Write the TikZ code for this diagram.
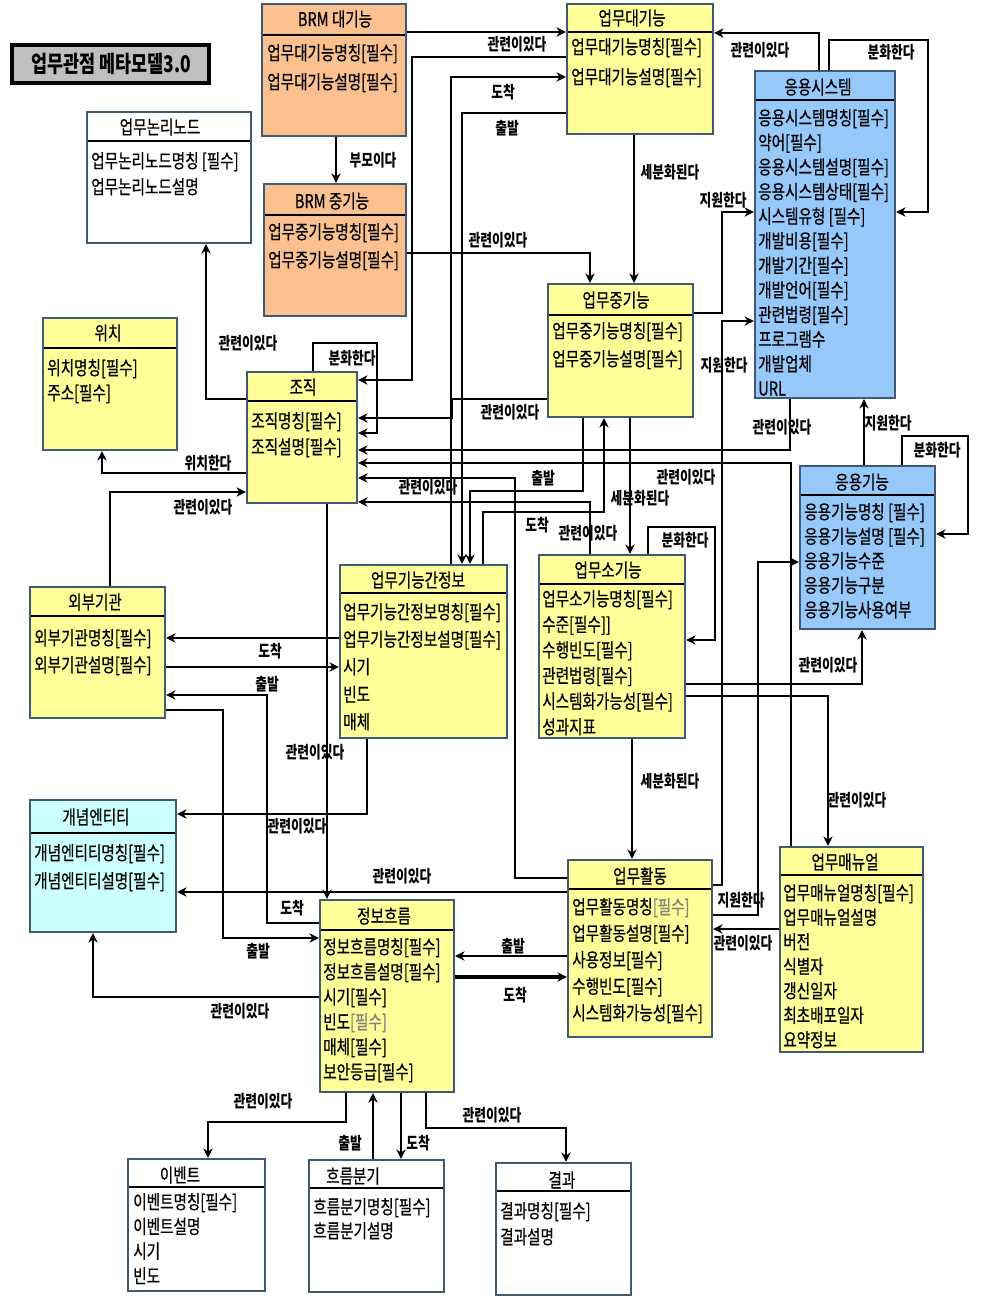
\documentclass[tikz,border=0pt]{standalone}
\usepackage{fontspec}
\setmainfont{Noto Sans CJK KR}[FakeStretch=0.76,UprightFeatures={FakeBold=0.5}]
\usetikzlibrary{arrows.meta,fit}
\definecolor{peach}{RGB}{250,192,144}
\definecolor{pale}{RGB}{255,255,153}
\definecolor{sky}{RGB}{150,200,250}
\definecolor{aqua}{RGB}{204,255,255}
\definecolor{edge}{RGB}{65,90,115}
\begin{document}
\begin{tikzpicture}[x=0.75pt,y=-0.75pt,
  ebox/.style={draw=edge,line width=1.8pt,inner sep=0pt},
  sep/.style={line width=1.6pt,shorten <=2pt,shorten >=2pt},
  hd/.style={font=\fontsize{14.4}{16}\selectfont,inner sep=0pt},
  attr/.style={anchor=west,font=\fontsize{14.4}{16}\selectfont,inner sep=0pt,text height=14pt,text depth=2.1pt},
  lbl/.style={font=\bfseries\fontsize{12.6}{14}\selectfont,inner sep=0pt},
  rel/.style={line width=1.9pt,-{Stealth[length=7pt,width=7pt]}},
  thinrel/.style={rel,line width=1.4pt}]
\fill[white] (0,0) rectangle (994,1303);
\useasboundingbox (0,0) rectangle (994,1303);

\node[fit={(12,45) (209,83)},fill=black!25,draw,line width=2.4pt,inner sep=0pt] (ttl) {};
\node[font=\bfseries\fontsize{17.2}{19}\selectfont] (ttl-t) at (111,64) {업무관점 메타모델3.0};

\node[ebox,fill=peach,fit={(262,4) (406,136)}] (brmL) {};
\node[ebox,fill=white,fit={(87,112) (251,243)}] (lnode) {};
\node[ebox,fill=peach,fit={(264,184) (406,316)}] (brmM) {};
\node[ebox,fill=pale,fit={(567,4) (713,134)}] (bfL) {};
\node[ebox,fill=sky,fit={(755,71) (895,398)}] (appsys) {};
\node[ebox,fill=pale,fit={(43,318) (177,450)}] (loc) {};
\node[ebox,fill=pale,fit={(247,372) (357,503)}] (org) {};
\node[ebox,fill=pale,fit={(548,284) (693,417)}] (bfM) {};
\node[ebox,fill=sky,fit={(800,466) (935,629)}] (appfn) {};
\node[ebox,fill=pale,fit={(30,587) (165,718)}] (ext) {};
\node[ebox,fill=pale,fit={(340,565) (507,738)}] (bfinfo) {};
\node[ebox,fill=pale,fit={(539,555) (685,738)}] (bfS) {};
\node[ebox,fill=aqua,fit={(30,800) (176,932)}] (cent) {};
\node[ebox,fill=pale,fit={(320,900) (454,1092)}] (iflow) {};
\node[ebox,fill=pale,fit={(568,860) (712,1037)}] (act) {};
\node[ebox,fill=pale,fit={(780,847) (923,1052)}] (man) {};
\node[ebox,fill=white,fit={(128,1159) (265,1291)}] (evt) {};
\node[ebox,fill=white,fit={(309,1160) (444,1292)}] (fork) {};
\node[ebox,fill=white,fit={(496,1163) (631,1295)}] (res) {};

\foreach \b/\y in {brmL/35,lnode/141,brmM/215,bfL/32,appsys/100,loc/348,org/401,bfM/315,appfn/495,
  ext/616,bfinfo/593,bfS/584,cent/833,iflow/930,act/889,man/875,evt/1187,fork/1188,res/1191}
  \draw[sep] (\b.west |- 0,\y) -- (\b.east |- 0,\y);

\foreach \b/\x/\y/\t in {brmL/335/19/BRM 대기능,lnode/160/127/업무논리노드,brmM/332/201/BRM 중기능,
  bfL/632/18/업무대기능,appsys/818/87/응용시스템,loc/108/333/위치,org/303/387/조직,bfM/616/300/업무중기능,
  appfn/862/482/응용기능,ext/95/602/외부기관,bfinfo/418/580/업무기능간정보,bfS/608/570/업무소기능,
  cent/96/817/개념엔티티,iflow/384/916/정보흐름,act/640/876/업무활동,man/845/862/업무매뉴얼,
  evt/180/1175/이벤트,fork/353/1176/흐름분기,res/562/1180/결과}
  \node[hd] (\b-t) at (\x,\y) {\t};

\foreach \t [count=\i] in {업무대기능명칭[필수],업무대기능설명[필수]}
  \node[attr] (brmL-\i) at (267,{52+(\i-1)*29}) {\t};
\foreach \t [count=\i] in {업무논리노드명칭 [필수],업무논리노드설명}
  \node[attr] (lnode-\i) at (91,{160+(\i-1)*26}) {\t};
\foreach \t [count=\i] in {업무중기능명칭[필수],업무중기능설명[필수]}
  \node[attr] (brmM-\i) at (268,{231+(\i-1)*28}) {\t};
\foreach \t [count=\i] in {업무대기능명칭[필수],업무대기능설명[필수]}
  \node[attr] (bfL-\i) at (571,{46+(\i-1)*30}) {\t};
\foreach \t [count=\i] in {응용시스템명칭[필수],약어[필수],응용시스템설명[필수],응용시스템상태[필수],
  시스템유형 [필수],개발비용[필수],개발기간[필수],개발언어[필수],관련법령[필수],프로그램수,개발업체,URL}
  \node[attr] (appsys-\i) at (758,{117+(\i-1)*24.6}) {\t};
\foreach \t [count=\i] in {위치명칭[필수],주소[필수]}
  \node[attr] (loc-\i) at (47,{367+(\i-1)*25}) {\t};
\foreach \t [count=\i] in {조직명칭[필수],조직설명[필수]}
  \node[attr] (org-\i) at (251,{420+(\i-1)*26}) {\t};
\foreach \t [count=\i] in {업무중기능명칭[필수],업무중기능설명[필수]}
  \node[attr] (bfM-\i) at (552,{330+(\i-1)*28}) {\t};
\foreach \t [count=\i] in {응용기능명칭 [필수],응용기능설명 [필수],응용기능수준,응용기능구분,응용기능사용여부}
  \node[attr] (appfn-\i) at (804,{511+(\i-1)*24.5}) {\t};
\foreach \t [count=\i] in {외부기관명칭[필수],외부기관설명[필수]}
  \node[attr] (ext-\i) at (34,{637+(\i-1)*27}) {\t};
\foreach \t [count=\i] in {업무기능간정보명칭[필수],업무기능간정보설명[필수],시기,빈도,매체}
  \node[attr] (bfinfo-\i) at (343,{611+(\i-1)*27.5}) {\t};
\foreach \t [count=\i] in {업무소기능명칭[필수],수준[필수]],수행빈도[필수],관련법령[필수],시스템화가능성[필수],성과지표}
  \node[attr] (bfS-\i) at (542,{598+(\i-1)*25.6}) {\t};
\foreach \t [count=\i] in {개념엔티티명칭[필수],개념엔티티설명[필수]}
  \node[attr] (cent-\i) at (34,{852+(\i-1)*28}) {\t};
\foreach \t [count=\i] in {정보흐름명칭[필수],정보흐름설명[필수],시기[필수],빈도\textcolor{gray}{[필수]},매체[필수],보안등급[필수]}
  \node[attr] (iflow-\i) at (323,{946+(\i-1)*25}) {\t};
\foreach \t [count=\i] in {업무활동명칭\textcolor{gray}{[필수]},업무활동설명[필수],사용정보[필수],수행빈도[필수],시스템화가능성[필수]}
  \node[attr] (act-\i) at (572,{906+(\i-1)*26.5}) {\t};
\foreach \t [count=\i] in {업무매뉴얼명칭[필수],업무매뉴얼설명,버전,식별자,갱신일자,최초배포일자,요약정보}
  \node[attr] (man-\i) at (783,{892+(\i-1)*24.5}) {\t};
\foreach \t [count=\i] in {이벤트명칭[필수],이벤트설명,시기,빈도}
  \node[attr] (evt-\i) at (133,{1201+(\i-1)*24.7}) {\t};
\foreach \t [count=\i] in {흐름분기명칭[필수],흐름분기설명}
  \node[attr] (fork-\i) at (313,{1206+(\i-1)*24}) {\t};
\foreach \t [count=\i] in {결과명칭[필수],결과설명}
  \node[attr] (res-\i) at (500,{1210+(\i-1)*26}) {\t};

\draw[rel] (brmL.east |- 0,32) -- (bfL.west |- 0,32);
\draw[rel] (bfL.west |- 0,57) -| (412,380) -- (org.east |- 0,380);
\draw[rel] (bfinfo.north -| 451,0) |- (bfL.west |- 0,77);
\draw[rel] (bfL.west |- 0,113) -| (bfinfo.north -| 462,0);
\draw[rel] (brmL.south -| 336,0) -- (brmM.north -| 336,0);
\draw[rel] (brmM.east |- 0,253) -| (bfM.north -| 590,0);
\draw[thinrel] (bfL.south -| 634,0) -- (bfM.north -| 634,0);
\draw[rel] (appsys.north -| 819,0) |- (bfL.east |- 0,33);
\draw[rel] (appsys.north -| 829,0) |- (928,40) |- (appsys.east |- 0,212);
\draw[rel] (bfM.east |- 0,313) -| (722,212) -- (appsys.west |- 0,212);
\draw[thinrel] (act.east |- 0,885) -| (722,321) -- (appsys.west |- 0,321);
\draw[rel] (appfn.north -| 864,0) -- (appsys.south -| 864,0);
\draw[rel] (appfn.north -| 902,0) |- (968,436) |- (appfn.east |- 0,534);
\draw[thinrel] (act.east |- 0,915) -| (758,562) -- (appfn.west |- 0,562);
\draw[thinrel] (man.west |- 0,929) -- (act.east |- 0,929);
\draw[rel] (bfS.east |- 0,684) -| (appfn.south -| 862,0);
\draw[rel] (bfS.east |- 0,696) -| (man.north -| 828,0);
\draw[thinrel] (man.north -| 791,0) |- (org.east |- 0,463);
\draw[thinrel] (appsys.south -| 790,0) |- (org.east |- 0,450);
\draw[rel] (bfM.west |- 0,399) -| (452,418) -- (org.east |- 0,418);
\draw[rel] (act.west |- 0,878) -| (515,478) -- (org.east |- 0,478);
\draw[rel] (bfS.north -| 590,0) |- (org.east |- 0,502);
\draw[rel] (org.north -| 313,0) |- (377,343) |- (org.east |- 0,433);
\draw[rel] (bfM.south -| 583,0) |- (470,491) -- (bfinfo.north -| 470,0);
\draw[rel] (bfinfo.north -| 483,0) |- (604,512) -- (bfM.south -| 604,0);
\draw[thinrel] (bfM.south -| 630,0) -- (bfS.north -| 630,0);
\draw[rel] (bfS.north -| 648,0) |- (715,527) |- (bfS.east |- 0,640);
\draw[rel] (bfS.south -| 632,0) -- (act.north -| 632,0);
\draw[rel] (org.west |- 0,473) -| (loc.south -| 102,0);
\draw[rel] (ext.north -| 110,0) |- (org.west |- 0,492);
\draw[rel] (org.west |- 0,399) -| (lnode.south -| 206,0);
\draw[rel] (bfinfo.west |- 0,638) -- (ext.east |- 0,638);
\draw[rel] (ext.east |- 0,667) -- (bfinfo.west |- 0,667);
\draw[rel] (iflow.west |- 0,923) -| (267,695) -- (ext.east |- 0,695);
\draw[rel] (ext.east |- 0,710) -| (223,938) -- (iflow.west |- 0,938);
\draw[rel] (bfinfo.south -| 367,0) |- (cent.east |- 0,814);
\draw[rel] (org.south -| 327,0) -- (iflow.north -| 327,0);
\draw[rel] (act.west |- 0,892) -- (cent.east |- 0,892);
\draw[rel] (iflow.west |- 0,997) -| (cent.south -| 93,0);
\draw[rel] (act.west |- 0,956) -- (iflow.east |- 0,956);
\draw[rel,line width=3pt] (iflow.east |- 0,977) -- (act.west |- 0,977);
\draw[rel] (iflow.south -| 346,0) |- (208,1122) -- (evt.north -| 208,0);
\draw[rel] (fork.north -| 373,0) -- (iflow.south -| 373,0);
\draw[rel] (iflow.south -| 401,0) -- (fork.north -| 401,0);
\draw[rel] (iflow.south -| 426,0) |- (566,1128) -- (res.north -| 566,0);

\foreach \t/\x/\y [count=\i] in {관련이있다/517/44,도착/503/92,출발/507/128,부모이다/373/160,관련이있다/760/50,
  분화한다/891/52,세분화된다/670/172,지원한다/723/200,관련이있다/498/240,지원한다/724/365,관련이있다/248/343,
  분화한다/352/358,관련이있다/510/412,관련이있다/782/427,지원한다/888/423,분화한다/937/450,위치한다/208/463,
  출발/543/478,관련이있다/686/477,관련이있다/428/487,세분화된다/640/498,관련이있다/203/507,도착/537/525,
  관련이있다/588/533,분화한다/685/540,도착/270/651,관련이있다/828/665,출발/267/684,관련이있다/315/752,
  세분화된다/670/781,관련이있다/857/800,관련이있다/297/826,관련이있다/402/876,지원한다/741/900,도착/292/908,
  관련이있다/743/943,출발/513/946,출발/258/951,도착/515/995,관련이있다/240/1011,관련이있다/263/1101,
  관련이있다/492/1115,출발/350/1143,도착/418/1143}
  \node[lbl] (lb\i) at (\x,\y) {\t};
\end{tikzpicture}
\end{document}
